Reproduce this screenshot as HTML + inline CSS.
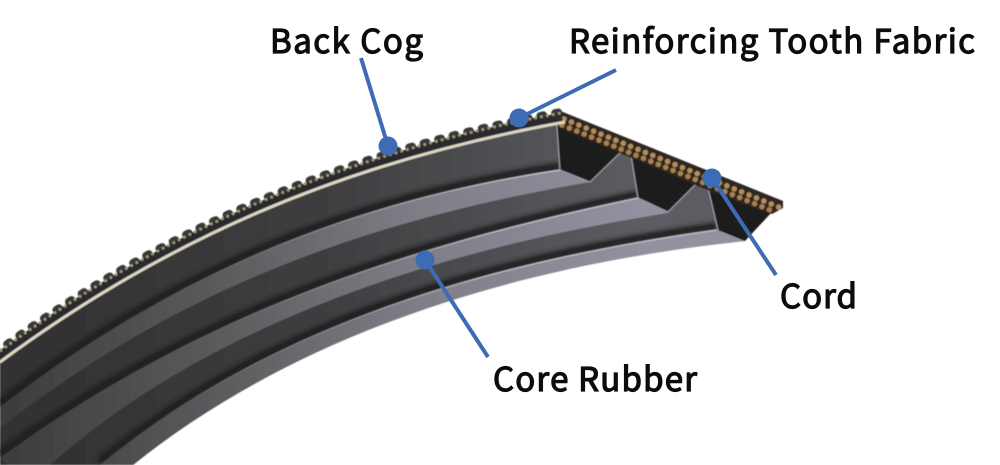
<!DOCTYPE html>
<html><head><meta charset="utf-8"><style>html,body{margin:0;padding:0;background:#fff;overflow:hidden}svg{display:block}text{font-family:"Noto Sans CJK JP","Liberation Sans",sans-serif;font-size:33px;fill:#0c0c0c;stroke:#0c0c0c;stroke-width:1.2px}</style></head><body>
<svg width="1000" height="465" viewBox="0 0 1000 465" xmlns="http://www.w3.org/2000/svg">
<defs>
<linearGradient id="w" gradientUnits="userSpaceOnUse" x1="0" y1="0" x2="640" y2="0"><stop offset="0" stop-color="#303031"/><stop offset=".5" stop-color="#3e3e40"/><stop offset="1" stop-color="#5c5d62"/></linearGradient>
<linearGradient id="b" gradientUnits="userSpaceOnUse" x1="0" y1="0" x2="640" y2="0"><stop offset="0" stop-color="#3c3c3d"/><stop offset=".35" stop-color="#5c5c5e"/><stop offset=".65" stop-color="#7f7d86"/><stop offset="1" stop-color="#9391a0"/></linearGradient>
<linearGradient id="h" gradientUnits="userSpaceOnUse" x1="150" y1="0" x2="500" y2="0"><stop offset="0" stop-color="#c4c2cc" stop-opacity="0"/><stop offset="1" stop-color="#d4d2dc" stop-opacity=".85"/></linearGradient>
<filter id="bl" x="-5%" y="-5%" width="110%" height="110%"><feGaussianBlur stdDeviation="2.5"/></filter>
<filter id="s" x="-2%" y="-2%" width="104%" height="104%"><feGaussianBlur stdDeviation=".5"/></filter>
</defs>
<rect width="1000" height="465" fill="#fff"/>
<g filter="url(#s)">
<path fill="url(#w)" d="M0,362 C165,240 340,163 563,122 L708,190 L718,230 L745,241 C470,270 270,355 133,465 L0,465 Z"/>
<path fill="none" stroke="#1d1d1f" stroke-width="7" filter="url(#bl)" d="M0,403 C165,276 340,199 560,166"/>
<path fill="none" stroke="#1d1d1f" stroke-width="7" filter="url(#bl)" d="M0,454 C190,316 390,246 638,194"/>
<path fill="none" stroke="#1d1d1f" stroke-width="7" filter="url(#bl)" d="M100,461 C240,346 430,266 717,226"/>
<path fill="url(#b)" d="M0,407 C165,280 340,203 560,170 L590,182 C340,225 165,300 0,428 Z"/>
<path fill="url(#b)" d="M0,458 C190,320 390,250 638,198 L668,213 C400,255 190,340 50,465 L8,465 Z"/>
<path fill="url(#b)" d="M100,465 C240,350 430,270 717,230 L745,241 C470,270 270,355 133,465 Z"/>
<path fill="none" stroke="url(#h)" stroke-width="1.2" d="M0,407 C165,280 340,203 560,170"/>
<path fill="none" stroke="url(#h)" stroke-width="1.2" d="M0,458 C190,320 390,250 638,198"/>
<path fill="none" stroke="url(#h)" stroke-width="1.2" d="M100,465 C240,350 430,270 717,230"/>
<polygon fill="#1b1b1c" points="556,120 560,170 590,182 622,150"/>
<polygon fill="#1b1b1c" points="631,155 638,198 668,212 699,180"/>
<polygon fill="#1b1b1c" points="708,188 718,230 745,241 772,212"/>
<path fill="none" stroke="#9b9ba1" stroke-width="1.2" d="M556,110 L557,128 L560,170 L590,182 L622,151"/>
<path fill="none" stroke="#9b9ba1" stroke-width="1.2" d="M631,155 L638,198 L668,212 L699,181"/>
<path fill="none" stroke="#9b9ba1" stroke-width="1.2" d="M708,188 L718,230"/>
<polygon fill="#2f2720" points="558,110 783,201 783,208 772,214 745,205 700,187 620,153 558,128"/>
<path fill="none" stroke="#b48d5c" stroke-width="5.5" stroke-linecap="round" stroke-dasharray="0 8" d="M564,119 L781,208"/>
<path fill="none" stroke="#a88150" stroke-width="5.5" stroke-linecap="round" stroke-dasharray="0 8" d="M562,125 L775,212"/>
<path fill="none" stroke="#39393a" stroke-width="8" stroke-linecap="round" stroke-dasharray="3 12" d="M-5,353 C160,231 337,153 561,112"/>
<path fill="none" stroke="#2c2c2e" stroke-width="9" d="M-3,358 C162,236 338,159 562,117"/>
<path fill="none" stroke="#9c9a72" stroke-width="3" stroke-linecap="round" stroke-dasharray="0 6" d="M-4,354 C161,232 337,155 561,113"/>
<path fill="none" stroke="#ddd6c2" stroke-width="3" d="M0,362 C165,240 340,163 565,122"/>
</g>
<g stroke="#3d6cb5" stroke-width="4" fill="#3d6cb5">
<line x1="361" y1="58" x2="388" y2="146"/><line x1="616" y1="70" x2="519" y2="118"/><line x1="712" y1="178" x2="776" y2="275"/><line x1="425" y1="260" x2="488" y2="357"/>
<circle cx="388" cy="146" r="9.5" stroke="none"/><circle cx="519" cy="118" r="9.5" stroke="none"/><circle cx="712" cy="178" r="9.5" stroke="none"/><circle cx="425" cy="260" r="9.5" stroke="none"/>
</g>
<text x="270" y="53" textLength="153" lengthAdjust="spacing">Back Cog</text>
<text x="569" y="53" textLength="406" lengthAdjust="spacing">Reinforcing Tooth Fabric</text>
<text x="780" y="308" textLength="77" lengthAdjust="spacing">Cord</text>
<text x="493" y="391" textLength="204" lengthAdjust="spacing">Core Rubber</text>
</svg>
</body></html>
